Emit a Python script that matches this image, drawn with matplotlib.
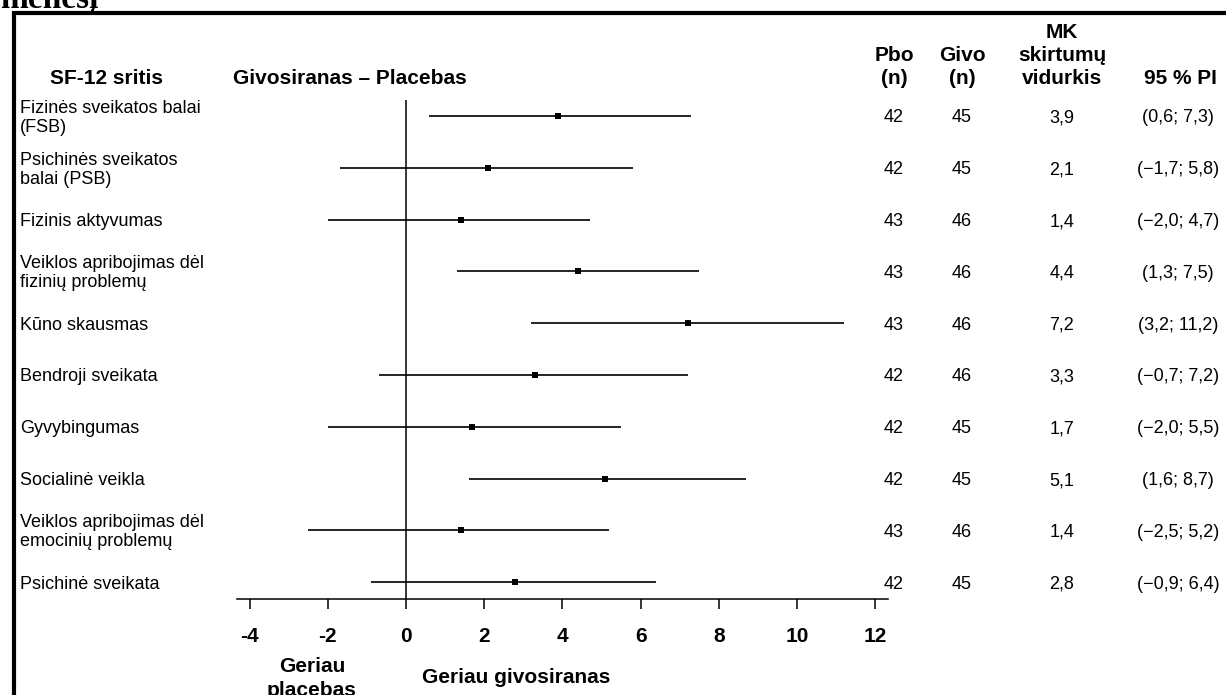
import matplotlib
matplotlib.use("Agg")
import matplotlib.pyplot as plt
import matplotlib.transforms as mtransforms
from matplotlib.lines import Line2D
import numpy as np

plt.rcParams['font.family'] = ['Liberation Sans', 'DejaVu Sans']
plt.rcParams['axes.unicode_minus'] = False

# ---- data ----
domains = [
    "Fizinės sveikatos balai\n(FSB)",
    "Psichinės sveikatos\nbalai (PSB)",
    "Fizinis aktyvumas",
    "Veiklos apribojimas dėl\nfizinių problemų",
    "Kūno skausmas",
    "Bendroji sveikata",
    "Gyvybingumas",
    "Socialinė veikla",
    "Veiklos apribojimas dėl\nemocinių problemų",
    "Psichinė sveikata",
]
pbo_n = [42, 42, 43, 43, 43, 42, 42, 42, 43, 42]
givo_n = [45, 45, 46, 46, 46, 46, 45, 45, 46, 45]
ls_mean_diff = [3.9, 2.1, 1.4, 4.4, 7.2, 3.3, 1.7, 5.1, 1.4, 2.8]
ci_low = [0.6, -1.7, -2.0, 1.3, 3.2, -0.7, -2.0, 1.6, -2.5, -0.9]
ci_high = [7.3, 5.8, 4.7, 7.5, 11.2, 7.2, 5.5, 8.7, 5.2, 6.4]
x_ticks = [-4, -2, 0, 2, 4, 6, 8, 10, 12]

W, H = 1226, 695
fig = plt.figure(figsize=(W / 100, H / 100), dpi=100)

def fx(p):
    return p / W

def fy(p):
    return 1 - p / H

# axes placement (pixels)
ax_l, ax_r, ax_t, ax_b = 237, 888, 100, 599
ax = fig.add_axes([fx(ax_l), fy(ax_b), fx(ax_r) - fx(ax_l), fy(ax_t) - fy(ax_b)])

n = len(domains)
ypos = np.arange(n)
row0, rowstep = 116, 51.8
ax.set_ylim((ax_b - row0) / rowstep, (ax_t - row0) / rowstep)
x0px, xscale = 406, 39.1
ax.set_xlim((ax_l - x0px) / xscale, (ax_r - x0px) / xscale)

m = np.array(ls_mean_diff)
lo = np.array(ci_low)
hi = np.array(ci_high)
ax.errorbar(m, ypos, xerr=[m - lo, hi - m], fmt='s', color='black',
            ms=5, capsize=5, elinewidth=1.2, capthick=1.2, mew=0)
ax.axvline(0, color='black', lw=1.1)

for s in ['top', 'right', 'left']:
    ax.spines[s].set_visible(False)
ax.spines['bottom'].set_linewidth(1.1)
ax.set_yticks([])
ax.set_xticks(x_ticks)
ax.set_xticklabels([str(t) for t in x_ticks], fontsize=15, fontweight='bold')
ax.tick_params(axis='x', direction='out', length=7.2, width=1.1, pad=13)

trans = mtransforms.blended_transform_factory(fig.transFigure, ax.transData)
trans_lbl = mtransforms.offset_copy(trans, fig=fig, x=0, y=-2, units='dots')
trans_num = mtransforms.offset_copy(trans, fig=fig, x=0, y=-6.5, units='dots')

# row labels and table values
for i in range(n):
    fig.text(fx(20), ypos[i], domains[i], transform=trans_lbl, ha='left', va='center',
             fontsize=13, linespacing=1.15)
    fig.text(fx(894), ypos[i], str(pbo_n[i]), transform=trans_num, ha='center',
             va='baseline', fontsize=13)
    fig.text(fx(962), ypos[i], str(givo_n[i]), transform=trans_num, ha='center',
             va='baseline', fontsize=13)
    fig.text(fx(1062), ypos[i], f"{ls_mean_diff[i]:.1f}".replace('.', ','), transform=trans_num,
             ha='center', va='baseline', fontsize=13)
    lo_s = f"{ci_low[i]:.1f}".replace('.', ',').replace('-', '\u2212')
    hi_s = f"{ci_high[i]:.1f}".replace('.', ',').replace('-', '\u2212')
    fig.text(fx(1178), ypos[i], f"({lo_s}; {hi_s})", transform=trans_num,
             ha='center', va='baseline', fontsize=13)

# headers
hb = dict(fontsize=15, fontweight='bold', va='baseline')
b3, b2, b1 = 84, 61, 38
fig.text(fx(106), fy(b3), "SF-12 sritis", ha='center', **hb)
fig.text(fx(233), fy(b3), "Givosiranas \u2013 Placebas", ha='left', **hb)
fig.text(fx(894), fy(b2), "Pbo", ha='center', **hb)
fig.text(fx(894), fy(b3), "(n)", ha='center', **hb)
fig.text(fx(962), fy(b2), "Givo", ha='center', **hb)
fig.text(fx(962), fy(b3), "(n)", ha='center', **hb)
fig.text(fx(1062), fy(b1), "MK", ha='center', **hb)
fig.text(fx(1062), fy(b2), "skirtumų", ha='center', **hb)
fig.text(fx(1062), fy(b3), "vidurkis", ha='center', **hb)
fig.text(fx(1180), fy(b3), "95 % PI", ha='center', **hb)

# bottom direction labels
fig.text(fx(312), fy(672), "Geriau", ha='center', **hb)
fig.text(fx(312), fy(696), "placebas", ha='center', **hb)
fig.text(fx(422), fy(683), "Geriau givosiranas", ha='left', **hb)

# cut-off heading above the box
fig.text(fx(0), fy(8), "mėnesį", ha='left', va='baseline', fontsize=24,
         fontweight='bold', family=['Liberation Serif', 'DejaVu Serif'])

# box border
fig.add_artist(Line2D([fx(14), fx(14), fx(W + 20)], [fy(H + 20), fy(13), fy(13)],
                      transform=fig.transFigure, color='black', lw=3,
                      solid_joinstyle='miter'))

fig.savefig("out.png", dpi=100)
